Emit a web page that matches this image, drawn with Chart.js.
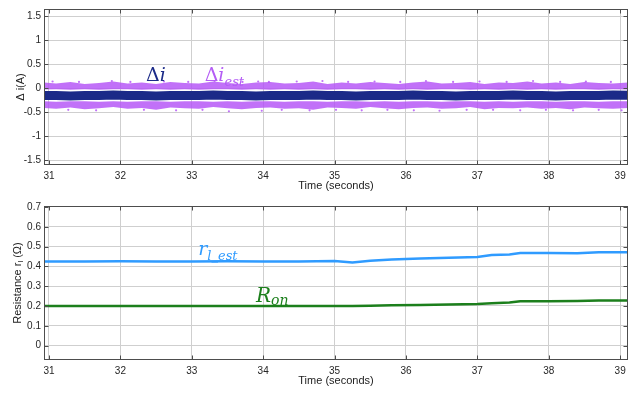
<!DOCTYPE html>
<html>
<head>
<style type="text/css">
body{ margin:0; background:#fff; }
canvas{ position:absolute; left:0; }
</style>
<title>Current and resistance estimate</title>
<script type="text/javascript" src="https://cdn.jsdelivr.net/npm/chart.js@4.4.1/dist/chart.umd.min.js"></script>
</head>
<body>
<canvas id="topChart" width="644" height="197" style="top:0px"></canvas>
<canvas id="bottomChart" width="644" height="198" style="top:197px"></canvas>
<script type="text/javascript">
// sampling instants (s) used for the current traces
var bandTimes = [30.9,31.1,31.3,31.5,31.7,31.9,32.1,32.3,32.5,32.7,32.9,33.1,33.3,33.5,33.7,33.9,34.1,34.3,34.5,34.7,
    34.9,35.1,35.3,35.5,35.7,35.9,36.1,36.3,36.5,36.7,36.9,37.1,37.3,37.5,37.7,37.9,38.1,38.3,38.5,38.7,38.9,39.15];
// measured delta i (A)
var deltaI = [-0.15,-0.15,-0.16,-0.15,-0.15,-0.14,-0.15,-0.15,-0.16,-0.15,-0.15,-0.15,-0.14,-0.15,-0.15,-0.16,-0.15,-0.15,-0.15,-0.14,
    -0.15,-0.15,-0.16,-0.15,-0.15,-0.15,-0.14,-0.15,-0.15,-0.16,-0.15,-0.15,-0.15,-0.14,-0.15,-0.15,-0.16,-0.15,-0.15,-0.15,-0.14,-0.15];
// estimated delta i: envelope of the upper and lower clouds of samples (A)
var estUpperTop = [0.12,0.10,0.13,0.09,0.11,0.14,0.10,0.12,0.09,0.13,0.11,0.10,0.14,0.11,0.09,0.12,0.13,0.10,0.11,0.14,
    0.09,0.12,0.10,0.13,0.11,0.09,0.12,0.14,0.10,0.11,0.13,0.09,0.12,0.11,0.14,0.10,0.12,0.09,0.13,0.11,0.10,0.12];
var estUpperBottom = [-0.03,-0.02,-0.03,-0.02,-0.03,-0.02,-0.02,-0.03,-0.02,-0.03,-0.02,-0.03,-0.02,-0.02,-0.03,-0.02,-0.03,-0.02,-0.03,-0.02,
    -0.03,-0.02,-0.02,-0.03,-0.02,-0.03,-0.02,-0.03,-0.02,-0.02,-0.03,-0.02,-0.03,-0.02,-0.03,-0.02,-0.03,-0.02,-0.02,-0.03,-0.02,-0.03];
var estLowerTop = [-0.27,-0.28,-0.27,-0.27,-0.28,-0.27,-0.28,-0.27,-0.27,-0.28,-0.27,-0.27,-0.28,-0.27,-0.28,-0.27,-0.27,-0.28,-0.27,-0.27,
    -0.28,-0.27,-0.27,-0.28,-0.27,-0.28,-0.27,-0.27,-0.28,-0.27,-0.27,-0.28,-0.27,-0.28,-0.27,-0.27,-0.28,-0.27,-0.27,-0.28,-0.27,-0.27];
var estLowerBottom = [-0.41,-0.43,-0.40,-0.44,-0.42,-0.39,-0.43,-0.41,-0.45,-0.40,-0.42,-0.43,-0.39,-0.42,-0.44,-0.41,-0.40,-0.43,-0.42,-0.45,
    -0.40,-0.41,-0.43,-0.39,-0.42,-0.44,-0.41,-0.40,-0.43,-0.42,-0.39,-0.44,-0.41,-0.42,-0.40,-0.43,-0.41,-0.44,-0.40,-0.42,-0.43,-0.41];
// loose estimated samples just outside the clouds
var strayTimes = [31.05,31.42,31.88,32.14,32.61,32.95,33.32,33.71,33.93,34.08,34.47,34.83,35.19,35.56,35.92,36.28,36.66,37.03,37.41,37.78,38.16,38.52,38.87,
    31.27,31.66,32.33,32.78,33.15,33.52,33.98,34.26,34.65,35.02,35.38,35.74,36.11,36.47,36.85,37.22,37.6,37.96,38.34,38.7,39.02];
var strayValues = [0.14,0.13,0.15,0.13,0.14,0.13,0.15,0.13,0.14,0.13,0.14,0.15,0.13,0.14,0.13,0.15,0.13,0.14,0.13,0.15,0.13,0.14,0.13,
    -0.45,-0.46,-0.45,-0.46,-0.45,-0.48,-0.47,-0.45,-0.46,-0.45,-0.46,-0.45,-0.46,-0.47,-0.45,-0.45,-0.46,-0.45,-0.46,-0.45,-0.46];

// resistances (ohm)
var resTimes = [30.9,31.5,32.0,32.5,33.0,33.5,34.0,34.5,35.0,35.25,35.5,35.8,36.2,36.6,37.0,37.2,37.45,37.6,38.0,38.4,38.7,39.15];
var rlEst = [0.425,0.424,0.426,0.425,0.424,0.426,0.425,0.424,0.427,0.420,0.428,0.435,0.440,0.443,0.447,0.458,0.460,0.468,0.467,0.466,0.471,0.472];
var rOn = [0.200,0.200,0.200,0.200,0.200,0.200,0.200,0.200,0.200,0.200,0.201,0.203,0.205,0.207,0.210,0.214,0.217,0.224,0.224,0.225,0.227,0.228];

var timeTicks = [31,32,33,34,35,36,37,38,39];
var currentTicks = [-1.5,-1,-0.5,0,0.5,1,1.5];
var resTicks = [0,0.1,0.2,0.3,0.4,0.5,0.6,0.7];

var SANS = '"Liberation Sans", Arial, sans-serif';
var SERIF = '"DejaVu Serif", serif';
var NAVY = '#1b2a88', VIOLET = 'rgba(177,78,246,0.8)', BLUE = '#2f9bff', GREEN = '#1c7f1c';

function pts(xs, ys) {
    return xs.map(function (x, i) { return {x: x, y: ys[i]}; });
}

function drawParts(ctx, parts, x, y, center) {
    var w = 0;
    parts.forEach(function (p) { ctx.font = p.font; w += ctx.measureText(p.text).width; });
    var cx = center ? x - w / 2 : x;
    parts.forEach(function (p) {
        ctx.font = p.font;
        ctx.fillText(p.text, cx, y + (p.dy || 0));
        cx += ctx.measureText(p.text).width;
    });
}

var matlabAxes = {
    id: 'matlabAxes',
    afterDraw: function (chart, args, opts) {
        var ctx = chart.ctx, a = chart.chartArea, xs = chart.scales.x, ys = chart.scales.y;
        var l = Math.round(a.left) + 0.5, r = Math.round(a.right) - 0.5;
        var t = Math.round(a.top) + 0.5, b = Math.round(a.bottom) - 0.5;
        ctx.save();
        ctx.strokeStyle = '#4d4d4d';
        ctx.lineWidth = 1;
        ctx.strokeRect(l, t, r - l, b - t);
        ctx.beginPath();
        xs.ticks.forEach(function (tk) {
            var px = Math.round(xs.getPixelForValue(tk.value)) + 0.5;
            ctx.moveTo(px, b); ctx.lineTo(px, b - 4);
            ctx.moveTo(px, t); ctx.lineTo(px, t + 4);
        });
        ys.ticks.forEach(function (tk) {
            var py = Math.round(ys.getPixelForValue(tk.value)) + 0.5;
            ctx.moveTo(l, py); ctx.lineTo(l + 4, py);
            ctx.moveTo(r, py); ctx.lineTo(r - 4, py);
        });
        ctx.stroke();

        ctx.fillStyle = '#222';
        ctx.textBaseline = 'middle';
        ctx.textAlign = 'left';
        drawParts(ctx, [{text: 'Time (seconds)', font: '11px ' + SANS}], (a.left + a.right) / 2, opts.xTitleY, true);
        ctx.save();
        ctx.translate(opts.yTitleX, (a.top + a.bottom) / 2);
        ctx.rotate(-Math.PI / 2);
        drawParts(ctx, opts.yTitle, 0, 0, true);
        ctx.restore();

        ctx.textBaseline = 'alphabetic';
        opts.labels.forEach(function (lb) {
            ctx.fillStyle = lb.color;
            drawParts(ctx, lb.parts, xs.getPixelForValue(lb.t), ys.getPixelForValue(lb.v), false);
        });
        ctx.restore();
    }
};

function axisOptions(min, max, ticks, fitSize, isX, pad) {
    return {
        type: 'linear',
        min: min,
        max: max,
        afterBuildTicks: function (scale) {
            scale.ticks = ticks.map(function (v) { return {value: v}; });
        },
        afterFit: function (scale) {
            if (isX) { scale.height = fitSize; } else { scale.width = fitSize; }
        },
        ticks: {
            callback: function (v) { return String(v); },
            font: {size: 10, family: SANS},
            color: '#262626',
            padding: pad,
            autoSkip: false,
            maxRotation: 0
        },
        grid: {color: '#cfcfcf', drawTicks: false},
        border: {display: false}
    };
}

Chart.register(matlabAxes);

new Chart(document.getElementById('topChart').getContext('2d'), {
    type: 'line',
    data: {
        datasets: [
            {data: pts(bandTimes, deltaI), borderColor: NAVY, borderWidth: 9, pointRadius: 0, fill: false, clip: 0},
            {data: pts(bandTimes, estUpperTop), borderColor: 'rgba(0,0,0,0)', borderWidth: 1, pointRadius: 0, fill: '+1', backgroundColor: VIOLET, clip: 0},
            {data: pts(bandTimes, estUpperBottom), borderColor: 'rgba(0,0,0,0)', borderWidth: 1, pointRadius: 0, fill: false, clip: 0},
            {data: pts(bandTimes, estLowerTop), borderColor: 'rgba(0,0,0,0)', borderWidth: 1, pointRadius: 0, fill: '+1', backgroundColor: VIOLET, clip: 0},
            {data: pts(bandTimes, estLowerBottom), borderColor: 'rgba(0,0,0,0)', borderWidth: 1, pointRadius: 0, fill: false, clip: 0},
            {data: pts(strayTimes, strayValues), showLine: false, pointRadius: 1.1, pointBorderWidth: 0, pointBackgroundColor: VIOLET, clip: 0}
        ]
    },
    options: {
        responsive: false,
        animation: false,
        layout: {padding: {left: 0, right: 16, top: 5, bottom: 0}},
        scales: {
            x: axisOptions(30.93, 39.11, timeTicks, 32, true, 5),
            y: axisOptions(-1.6, 1.65, currentTicks, 44, false, 3)
        },
        plugins: {
            legend: {display: false},
            tooltip: {enabled: false},
            matlabAxes: {
                xTitleY: 186,
                yTitleX: 21,
                yTitle: [{text: '\u0394 i(A)', font: '11px ' + SANS}],
                labels: [
                    {t: 32.36, v: 0.14, color: NAVY, parts: [
                        {text: '\u0394', font: '19px ' + SERIF},
                        {text: 'i', font: 'italic 19px ' + SERIF}]},
                    {t: 33.18, v: 0.14, color: '#b45cf5', parts: [
                        {text: '\u0394', font: '19px ' + SERIF},
                        {text: 'i', font: 'italic 19px ' + SERIF},
                        {text: 'est', font: 'italic 13px ' + SERIF, dy: 5}]}
                ]
            }
        }
    }
});

new Chart(document.getElementById('bottomChart').getContext('2d'), {
    type: 'line',
    data: {
        datasets: [
            {data: pts(resTimes, rlEst), borderColor: BLUE, borderWidth: 2.5, pointRadius: 0, fill: false, clip: 0},
            {data: pts(resTimes, rOn), borderColor: GREEN, borderWidth: 2.5, pointRadius: 0, fill: false, clip: 0}
        ]
    },
    options: {
        responsive: false,
        animation: false,
        layout: {padding: {left: 0, right: 16, top: 4, bottom: 0}},
        scales: {
            x: axisOptions(30.93, 39.11, timeTicks, 35, true, 5),
            y: axisOptions(-0.073, 0.705, resTicks, 44, false, 3)
        },
        plugins: {
            legend: {display: false},
            tooltip: {enabled: false},
            matlabAxes: {
                xTitleY: 184,
                yTitleX: 18,
                yTitle: [
                    {text: 'Resistance r', font: '11px ' + SANS},
                    {text: 'l', font: '8px ' + SANS, dy: 3},
                    {text: ' (\u03a9)', font: '11px ' + SANS}],
                labels: [
                    {t: 33.09, v: 0.455, color: BLUE, parts: [
                        {text: 'r', font: 'italic 19px ' + SERIF},
                        {text: 'l_est', font: 'italic 13px ' + SERIF, dy: 5}]},
                    {t: 33.90, v: 0.221, color: GREEN, parts: [
                        {text: 'R', font: 'italic 20px ' + SERIF},
                        {text: 'on', font: 'italic 14px ' + SERIF, dy: 3}]}
                ]
            }
        }
    }
});
</script>
</body>
</html>
